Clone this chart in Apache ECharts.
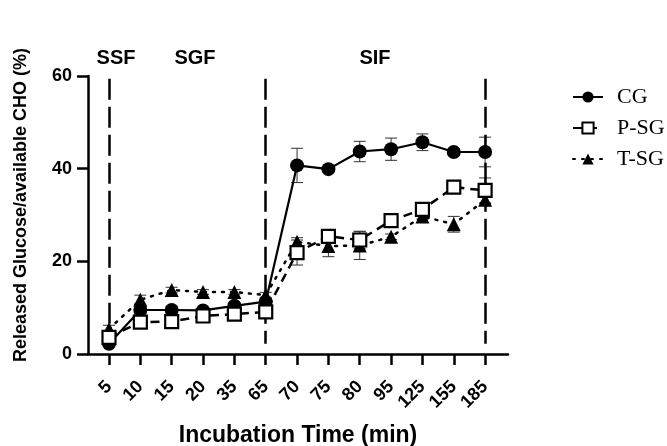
<!DOCTYPE html>
<html>
<head>
<meta charset="utf-8">
<script src="https://cdn.jsdelivr.net/npm/echarts@6/dist/echarts.min.js"></script>
<style>html,body{margin:0;padding:0;background:#fff}#c{width:667px;height:446px}</style>
</head>
<body>
<div id="c"></div>
<script>
var categories = ['5','10','15','20','35','65','70','75','80','95','125','155','185'];
var cgValues  = [2.2, 9.5, 9.5, 9.4, 10.4, 11.3, 40.7, 39.9, 43.7, 44.2, 45.7, 43.6, 43.6];
var cgErr     = [0.6, 0.8, 0.8, 0.6, 0.6, 0.8, 3.7, 0.5, 2.2, 2.4, 1.8, 0.7, 3.2];
var psgValues = [3.6, 6.9, 7.0, 8.2, 8.6, 9.1, 21.9, 25.4, 24.6, 28.8, 31.2, 36.0, 35.3];
var psgErr    = [0.8, 0.8, 0.8, 0.6, 0.6, 0.8, 2.7, 1.0, 1.9, 0.8, 0.8, 0.7, 2.7];
var tsgValues = [5.4, 11.7, 13.8, 13.4, 13.4, 12.7, 24.2, 23.3, 23.4, 25.3, 29.7, 28.0, 33.3];
var tsgErr    = [0.8, 1.0, 0.6, 0.5, 0.5, 0.6, 0.9, 2.3, 3.0, 0.6, 0.6, 1.7, 0.8];
var yTicks = [0, 20, 40, 60];
var phaseBounds = [0, 5, 12];
var phaseLabels = ['SSF', 'SGF', 'SIF'];

var idx = categories.map(function(_, i){ return i; });
function pts(vals){ return vals.map(function(v, i){ return [i, v]; }); }
function errData(vals, errs){ return vals.map(function(v, i){ return [i, v - errs[i], v + errs[i]]; }); }

function errSeries(vals, errs, z){
  return {
    type: 'custom', silent: true, z: z,
    data: errData(vals, errs),
    renderItem: function(params, api){
      var x = api.value(0);
      var lo = api.coord([x, api.value(1)]);
      var hi = api.coord([x, api.value(2)]);
      var w = 6;
      var st = {stroke: '#333', lineWidth: 1, fill: null};
      return {type: 'group', children: [
        {type: 'line', shape: {x1: lo[0], y1: lo[1], x2: hi[0], y2: hi[1]}, style: st},
        {type: 'line', shape: {x1: lo[0]-w, y1: lo[1], x2: lo[0]+w, y2: lo[1]}, style: st},
        {type: 'line', shape: {x1: hi[0]-w, y1: hi[1], x2: hi[0]+w, y2: hi[1]}, style: st}
      ]};
    },
    tooltip: {show: false}
  };
}

var chart = echarts.init(document.getElementById('c'), null, {renderer: 'canvas'});
chart.setOption({
  animation: false,
  grid: {left: 88, right: 159, top: 76, bottom: 92, containLabel: false, outerBoundsMode: 'none'},
  xAxis: {
    type: 'value', min: -0.67, max: 12.73,
    splitLine: {show: false},
    axisLine: {show: true, onZero: false, lineStyle: {color: '#000', width: 2.5}},
    axisTick: {show: true, customValues: idx, length: 11, lineStyle: {color: '#000', width: 2.5}},
    axisLabel: {
      show: true, customValues: idx, rotate: 45, margin: 30,
      fontFamily: 'Liberation Sans', fontWeight: 'bold', fontSize: 18, color: '#000',
      formatter: function(v){ return categories[Math.round(v)]; }
    },
    name: 'Incubation Time (min)', nameLocation: 'middle', nameGap: 70,
    nameTextStyle: {fontFamily: 'Liberation Sans', fontWeight: 'bold', fontSize: 23, color: '#000'}
  },
  yAxis: {
    type: 'value', min: yTicks[0], max: yTicks[yTicks.length-1], interval: 20,
    splitLine: {show: false},
    axisLine: {show: true, onZero: false, lineStyle: {color: '#000', width: 2.5}},
    axisTick: {show: true, length: 11, lineStyle: {color: '#000', width: 2.5}},
    axisLabel: {margin: 16, fontFamily: 'Liberation Sans', fontWeight: 'bold', fontSize: 18, color: '#000'},
    name: 'Released Glucose/available CHO (%)', nameLocation: 'middle', nameGap: 58,
    nameTextStyle: {fontFamily: 'Liberation Sans', fontWeight: 'bold', fontSize: 18, color: '#000', padding: [0, 0, 0, 20]}
  },
  legend: {
    orient: 'vertical', left: 567, top: 81,
    itemWidth: 30, itemHeight: 14, itemGap: 9,
    data: ['CG', 'P-SG', 'T-SG'],
    textStyle: {fontFamily: 'Liberation Serif', fontSize: 22, color: '#000', padding: [0, 0, 0, 9]}
  },
  graphic: phaseLabels.map(function(t, i){
    var xs = [116, 195, 375];
    return {type: 'text', x: xs[i], y: 58, style: {text: t, font: 'bold 20px "Liberation Sans"', fill: '#000', align: 'center', verticalAlign: 'middle'}};
  }),
  series: [
    {
      type: 'line', name: 'bounds', data: [], silent: true,
      markLine: {
        silent: true, symbol: 'none', label: {show: false},
        lineStyle: {color: '#000', width: 2.5, type: [21, 7]},
        data: phaseBounds.map(function(b){ return [{coord: [b, 59.4]}, {coord: [b, 2.2]}]; })
      }
    },
    errSeries(cgValues, cgErr, 1),
    errSeries(tsgValues, tsgErr, 1),
    errSeries(psgValues, psgErr, 1),
    {
      name: 'CG', type: 'line', data: pts(cgValues), z: 3,
      symbol: 'circle', symbolSize: 14,
      lineStyle: {color: '#000', width: 2.2},
      itemStyle: {color: '#000', borderColor: '#000', borderWidth: 0}
    },
    {
      name: 'T-SG', type: 'line', data: pts(tsgValues), z: 4,
      symbol: 'triangle', symbolSize: 14,
      lineStyle: {color: '#000', width: 2.5, type: [2, 7], cap: 'round'},
      itemStyle: {color: '#000', borderColor: '#000', borderWidth: 0}
    },
    {
      name: 'P-SG', type: 'line', data: pts(psgValues), z: 5,
      symbol: 'rect', symbolSize: 13,
      lineStyle: {color: '#000', width: 2.5, type: [9, 6]},
      itemStyle: {color: '#fff', borderColor: '#000', borderWidth: 2.2}
    }
  ]
});
</script>
</body>
</html>
